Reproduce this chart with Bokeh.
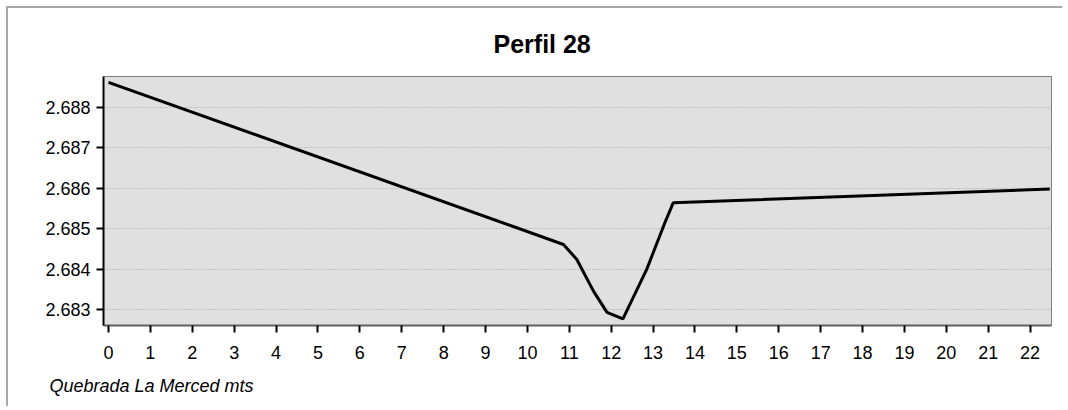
from bokeh.plotting import figure
from bokeh.models import Range1d, FixedTicker, Title, NumeralTickFormatter
from bokeh.embed import file_html
from bokeh.resources import INLINE

# distance along profile (m)
distance = [0.0, 10.86, 11.18, 11.58, 11.90, 12.28, 12.85, 13.29, 13.48, 22.47]
# elevation (km)
elevation = [2.68862, 2.68461, 2.68424, 2.68345, 2.68293, 2.68277, 2.68400, 2.68517, 2.68564, 2.68598]

x_ticks = list(range(0, 23))
y_ticks = [2.683, 2.684, 2.685, 2.686, 2.687, 2.688]

FONT = "Liberation Sans"

p = figure(width=1056, height=400, output_backend="svg", toolbar_location=None,
           x_range=Range1d(-0.119, 22.51), y_range=Range1d(2.682606, 2.688764),
           min_border_left=95, min_border_right=13, min_border_top=67, min_border_bottom=83,
           styles={"margin-left": "6px", "margin-top": "6px",
                   "border-left": "2px solid #a8a8a8", "border-top": "2px solid #a8a8a8"})

p.title.text = "Perfil 28"
p.title.align = "left"
p.title.offset = 390
p.title.standoff = 38
p.title.text_font = FONT
p.title.text_font_size = "25px"
p.title.text_font_style = "bold"
p.title.text_color = "black"

p.background_fill_color = "#e0e0e0"
p.border_fill_color = "white"
p.outline_line_color = "#808080"
p.outline_line_width = 1

p.line(distance, elevation, line_color="black", line_width=3)

# axes
p.xaxis.ticker = FixedTicker(ticks=x_ticks)
p.yaxis.ticker = FixedTicker(ticks=y_ticks)
p.yaxis.formatter = NumeralTickFormatter(format="0.000")
for ax in (p.xaxis, p.yaxis):
    ax.major_tick_out = 7
    ax.major_tick_in = 0
    ax.minor_tick_out = 0
    ax.minor_tick_in = 0
    ax.major_tick_line_color = "black"
    ax.major_tick_line_width = 2
    ax.major_label_text_font = FONT
    ax.major_label_text_font_size = "18px"
    ax.major_label_text_color = "black"
p.yaxis.axis_line_color = "black"
p.yaxis.axis_line_width = 2
p.xaxis.axis_line_color = "#606060"
p.xaxis.axis_line_width = 2
p.yaxis.major_label_standoff = 6
p.xaxis.major_label_standoff = 13

# grid
p.xgrid.grid_line_color = None
p.ygrid.grid_line_color = "#a0a0a0"
p.ygrid.grid_line_dash = "1 2"
p.ygrid.grid_line_width = 1

xlabel = Title(text="Quebrada La Merced mts", align="left", offset=-54, standoff=24,
               text_font=FONT, text_font_size="18px", text_font_style="italic",
               text_color="black")
p.add_layout(xlabel, "below")

open("out.html", "w").write(file_html(p, INLINE))
